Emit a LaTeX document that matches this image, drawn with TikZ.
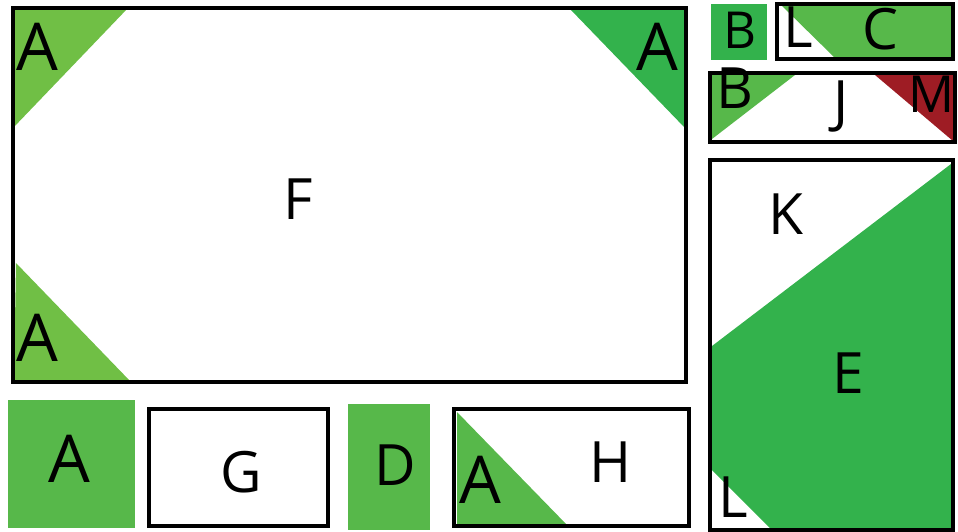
\documentclass[tikz,border=0pt]{standalone}
\usepackage{fontspec}
\setmainfont{Open Sans}
\definecolor{lightgreen}{rgb}{0.44,0.75,0.27}
\definecolor{midgreen}{rgb}{0.34,0.72,0.29}
\definecolor{darkgreen}{rgb}{0.20,0.70,0.30}
\definecolor{darkred}{rgb}{0.62,0.11,0.14}

\begin{document}
\begin{tikzpicture}[
  x=1pt, y=-1pt,
  every node/.style={inner sep=0pt, anchor=base},
  letter/.style={font=\fontsize{57}{60}\selectfont},
  bigletter/.style={font=\fontsize{66}{70}\selectfont},
  smallletter/.style={font=\fontsize{51}{54}\selectfont},
  block/.style={draw=black, line width=4pt},
]
\useasboundingbox (0,0) rectangle (958,531);

% ---- big panel F with its corner triangles ----
\fill[lightgreen] (13,8) -- (128,8) -- (13,128) -- cycle;
\fill[darkgreen] (570,9) -- (685,9) -- (685,128) -- cycle;
\fill[lightgreen] (16,263) -- (131,382) -- (14,381) -- cycle;
\draw[block] (13,8) rectangle (686,382);
\node[bigletter] (a1) at (37,70) {A};
\node[bigletter] (a2) at (657,70) {A};
\node[bigletter] (a3) at (37,361) {A};
\node[letter] (f) at (298,219) {F};

% ---- bottom row ----
\fill[midgreen] (8,400) rectangle (135,528);
\node[bigletter] (a4) at (69,482) {A};
\draw[block] (149,409) rectangle (328,526);
\node[letter] (g) at (241,492) {G};
\fill[midgreen] (348,404) rectangle (430,530);
\node[letter] (d) at (395,485) {D};
\fill[midgreen] (457,412) -- (568,526) -- (457,526) -- cycle;
\draw[block] (454,409) rectangle (689,526);
\node[bigletter] (a5) at (480,503) {A};
\node[letter] (h) at (611,482) {H};

% ---- right column, top strips ----
\fill[darkgreen] (711,4) rectangle (767,60);
\node[smallletter] (b1) at (740,48) {B};
\fill[midgreen] (781,5) -- (953,5) -- (953,58) -- (835,58) -- cycle;
\draw[block] (777,4) rectangle (953,59);
\node[letter] (l1) at (798,47) {L};
\node[letter] (c) at (880,49) {C};

\fill[midgreen] (712,75) -- (795,75) -- (712,139) -- cycle;
\fill[darkred] (875,75) -- (953,75) -- (953,141) -- cycle;
\draw[block] (710,73) rectangle (955,142);
\node[letter] (b2) at (735,108) {B};
\node[letter] (j) at (841,121) {J};
\node[smallletter] (m) at (932,112) {M};

% ---- right column, big panel E ----
\fill[darkgreen] (951,164) -- (951,528) -- (770,528) -- (712,470) -- (712,346) -- cycle;
\draw[block] (710,160) rectangle (953,530);
\node[letter] (k) at (786,234) {K};
\node[letter] (e) at (848,393) {E};
\node[letter] (l2) at (733,517) {L};

\end{tikzpicture}
\end{document}
